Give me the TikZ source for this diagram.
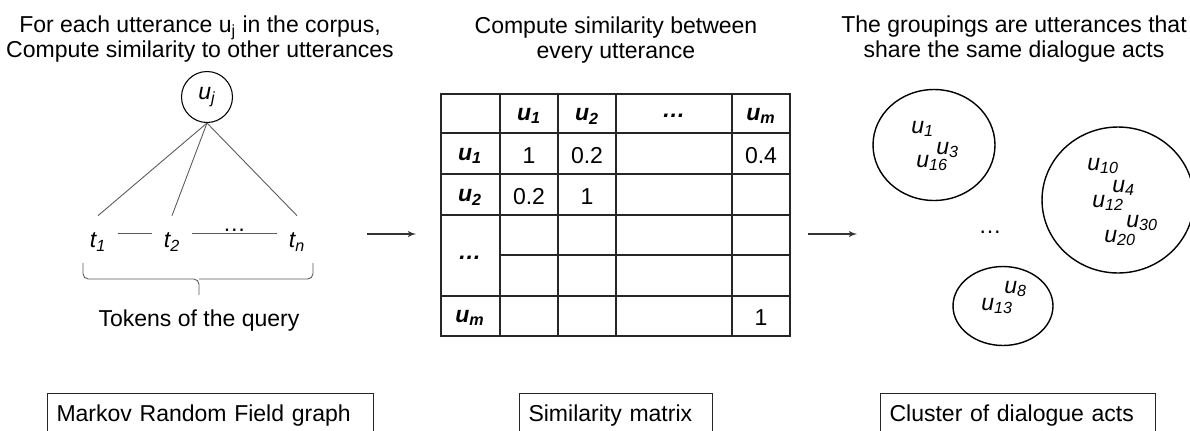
\documentclass[tikz,border=0pt]{standalone}
\usepackage{fontspec}
\setmainfont{Liberation Sans}
\usetikzlibrary{arrows,shapes,positioning,calc}
\newcommand{\figfont}{\fontsize{13.1}{14.2}\selectfont}

\begin{document}
\begin{tikzpicture}
[x=0.02cm,y=-0.02cm,
every node/.style={font=\figfont,inner sep=0pt},
tok/.style={minimum width=0.8cm,minimum height=1.04cm,font=\figfont\itshape},
lab/.style={anchor=base west,font=\figfont\itshape},
hd/.style={font=\figfont\bfseries\itshape},
title/.style={anchor=base,align=center},
myedge/.style={black!65,line width=0.5pt},
myarrow/.style={->,>=latex',line width=0.6pt,black!80},
grid/.style={black!85,line width=0.8pt},
grp/.style={draw,ellipse,line width=0.8pt},
boxlab/.style={draw,black!85,text=black,line width=0.6pt,anchor=north west,align=left,
  inner xsep=0.18cm,inner ysep=0.16cm,text height=0.4cm,text depth=1cm}]
\useasboundingbox (0,0) rectangle (1190,430);
\clip (0,0) rectangle (1190,430);
%%%%%%%%%%
%%%%% Markov random field
%% titles
\node (ttl1) [title] at (200,57) {For each utterance u\textsubscript{j} in the corpus,\\Compute similarity to other utterances};
%% vertices
\node (uj) [circle,draw,minimum size=1.02cm,line width=0.6pt] at (207,97) {\itshape u\textsubscript{j}};
\node (t1) [tok] at (98,242) {t\textsubscript{1}};
\node (t2) [tok] at (172,242) {t\textsubscript{2}};
\node (tn) [tok] at (297,242) {t\textsubscript{n}};
%% edges
\draw[myedge] (uj.south) -- (t1.north);
\draw[myedge] (uj.south) -- (t2.north);
\draw[myedge] (uj.south) -- (tn.north);
\draw[myedge] ($(t1.east)+(0,-9)$) -- ($(t2.west)+(0,-9)$);
\draw[myedge] ($(t2.east)+(0,-9)$) -- ($(tn.west)+(0,-9)$);
\node (tdots) [anchor=base] at ($(t2.east)!.5!(tn.west)+(0,-11)$) {…};
%% brace
\coordinate (bl) at (83,263);
\coordinate (br) at (313,263);
\coordinate (bm) at (199,295);
\draw[myedge,rounded corners=3pt] (bl) |- (bm |- 0,279) -- (bm);
\draw[myedge,rounded corners=3pt] (br) |- (bm |- 0,279);
\node (tok) [anchor=base] at (199,326) {Tokens of the query};
%% arrow
\coordinate (a1s) at (367,234);
\coordinate (a1e) at (416,234);
\draw[myarrow] (a1s) -- (a1e);
%%%%%%%%%%
%%%%% similarity matrix
\node (ttl2) [title] at (616,58) {Compute similarity between\\every utterance};
\draw[grid] (441,94) rectangle (790,336);
\foreach \x in {500,558,616,732} \draw[grid] (\x,94) -- (\x,336);
\foreach \y in {133,174,215,296} \draw[grid] (441,\y) -- (790,\y);
\draw[grid] (500,255) -- (790,255);
%% headings
\node (h1) [hd] at (529,116) {u\textsubscript{1}};
\node (h2) [hd] at (587,116) {u\textsubscript{2}};
\node (hdots) [hd] at (674,116) {…};
\node (hm) [hd] at (761,116) {u\textsubscript{m}};
\node (r1) [hd] at (470,156) {u\textsubscript{1}};
\node (r2) [hd] at (470,197) {u\textsubscript{2}};
\node (rdots) [hd] at (470,258) {…};
\node (rm) [hd] at (470,318) {u\textsubscript{m}};
%% values
\node (c11) at (529,156) {1};
\node (c12) at (587,156) {0.2};
\node (c1m) at (761,156) {0.4};
\node (c21) at (529,197) {0.2};
\node (c22) at (587,197) {1};
\node (cmm) at (761,318) {1};
%% arrow
\coordinate (a2s) at (808,234);
\coordinate (a2e) at (857,234);
\draw[myarrow] (a2s) -- (a2e);
%%%%%%%%%%
%%%%% clusters
\node (ttl3) [title] at (1014,57) {The groupings are utterances that\\share the same dialogue acts};
\node (g1) [grp,minimum width=2.44cm,minimum height=2.22cm] at (934,145) {};
\node (g2) [grp,minimum width=3.04cm,minimum height=2.92cm] at (1118,200) {};
\node (g3) [grp,minimum width=2cm,minimum height=1.58cm] at (1003,306) {};
\node (gdots) [anchor=base] at (990,233) {…};
%% members
\node (u1) [lab] at (911,133) {u\textsubscript{1}};
\node (u3) [lab] at (936,154) {u\textsubscript{3}};
\node (u16) [lab] at (916,167) {u\textsubscript{16}};
\node (u10) [lab] at (1087,170) {u\textsubscript{10}};
\node (u4) [lab] at (1112,192) {u\textsubscript{4}};
\node (u12) [lab] at (1092,207) {u\textsubscript{12}};
\node (u30) [lab] at (1126,227) {u\textsubscript{30}};
\node (u20) [lab] at (1104,242) {u\textsubscript{20}};
\node (u8) [lab] at (1004,293) {u\textsubscript{8}};
\node (u13) [lab] at (981,310) {u\textsubscript{13}};
%%%%%%%%%%
%%%%% captions
\node (cap1) [boxlab,text width=6.16cm] at (47,393) {Markov Random Field graph};
\node (cap2) [boxlab,text width=3.5cm] at (519,393) {Similarity matrix};
\node (cap3) [boxlab,text width=5.14cm] at (880,393) {Cluster of dialogue acts};
\end{tikzpicture}
\end{document}
